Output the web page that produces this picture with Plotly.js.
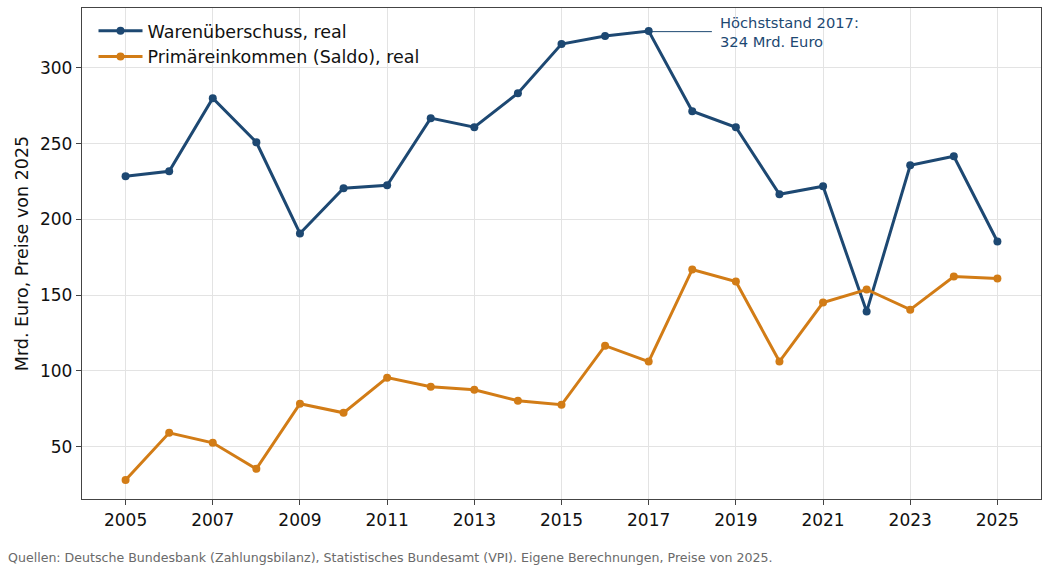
<!DOCTYPE html>
<html><head><meta charset="utf-8">
<script src="https://cdn.plot.ly/plotly-3.0.1.min.js"></script>
<style>html,body{margin:0;padding:0;background:#fff}#c{width:1058px;height:567px}</style>
</head><body><div id="c"></div>
<script>
const years = [2005,2006,2007,2008,2009,2010,2011,2012,2013,2014,2015,2016,2017,2018,2019,2020,2021,2022,2023,2024,2025];
const warenueberschuss = [228.5,231.8,280,251,190.8,220.6,222.6,266.9,260.9,283.4,315.8,321.1,324.4,271.5,260.9,216.6,221.9,139.2,235.8,241.7,185.5];
const primaereinkommen = [28.1,59.2,52.6,35.4,78.4,72.4,95.6,89.6,87.6,80.4,77.7,116.7,106.2,167,159,106.2,145.2,153.8,140.5,162.4,161];
const seriesNames = ["Warenüberschuss, real","Primäreinkommen (Saldo), real"];
const yTicks = [50,100,150,200,250,300];
const xTicks = [2005,2007,2009,2011,2013,2015,2017,2019,2021,2023,2025];
const peakYear = 2017, peakValue = 324;
const annotationText = "Höchststand 2017:<br>324 Mrd. Euro";
const sourceText = "Quellen: Deutsche Bundesbank (Zahlungsbilanz), Statistisches Bundesamt (VPI). Eigene Berechnungen, Preise von 2025.";

const blue = "#1d4872", orange = "#d27c16";
const traces = [
  {x: years, y: warenueberschuss, name: seriesNames[0], type: "scatter", mode: "lines+markers",
   line: {color: blue, width: 3}, marker: {color: blue, size: 8}},
  {x: years, y: primaereinkommen, name: seriesNames[1], type: "scatter", mode: "lines+markers",
   line: {color: orange, width: 3}, marker: {color: orange, size: 8}}
];
const layout = {
  width: 1058, height: 567,
  margin: {l: 82, r: 17, t: 8, b: 68},
  paper_bgcolor: "#fff", plot_bgcolor: "#fff",
  font: {family: "DejaVu Sans, sans-serif", color: "#111"},
  xaxis: {range: [2004, 2026], tickvals: xTicks, ticktext: xTicks.map(String),
    showgrid: true, gridcolor: "#e3e3e3", gridwidth: 1,
    showline: true, linecolor: "#444", linewidth: 1.2, mirror: true,
    ticks: "outside", ticklen: 5, tickcolor: "#444", tickfont: {size: 17}, zeroline: false},
  yaxis: {range: [15.5, 339.6], tickvals: yTicks, ticktext: yTicks.map(String),
    title: {text: "Mrd. Euro, Preise von 2025", font: {size: 17.5}, standoff: 6},
    showgrid: true, gridcolor: "#e3e3e3", gridwidth: 1,
    showline: true, linecolor: "#444", linewidth: 1.2, mirror: true,
    ticks: "outside", ticklen: 5, tickcolor: "#444", tickfont: {size: 17}, zeroline: false},
  legend: {x: 0.012, y: 0.99, xanchor: "left", yanchor: "top", bgcolor: "rgba(255,255,255,0)",
    font: {size: 17.5}, itemwidth: 44},
  showlegend: true,
  shapes: [{type: "line", xref: "x", yref: "y", x0: peakYear, y0: peakValue, x1: peakYear + 1.45, y1: peakValue,
    line: {color: blue, width: 1}}],
  annotations: [
    {x: peakYear + 1.6, y: peakValue, xref: "x", yref: "y", text: annotationText, showarrow: false,
     xanchor: "left", yanchor: "middle", align: "left", font: {size: 14.7, color: blue}},
    {x: 6, y: 557, xref: "paper", yref: "paper", text: sourceText, showarrow: false,
     xanchor: "left", yanchor: "middle", font: {size: 12.6, color: "#6a6a6a"}}
  ]
};
// convert footer position from pixels to paper coordinates
const pw = 1058 - 82 - 17, ph = 567 - 8 - 68;
layout.annotations[1].x = (6 - 82) / pw;
layout.annotations[1].y = (567 - 68 - 557) / ph;
Plotly.newPlot("c", traces, layout, {displayModeBar: false, staticPlot: true});
</script></body></html>
